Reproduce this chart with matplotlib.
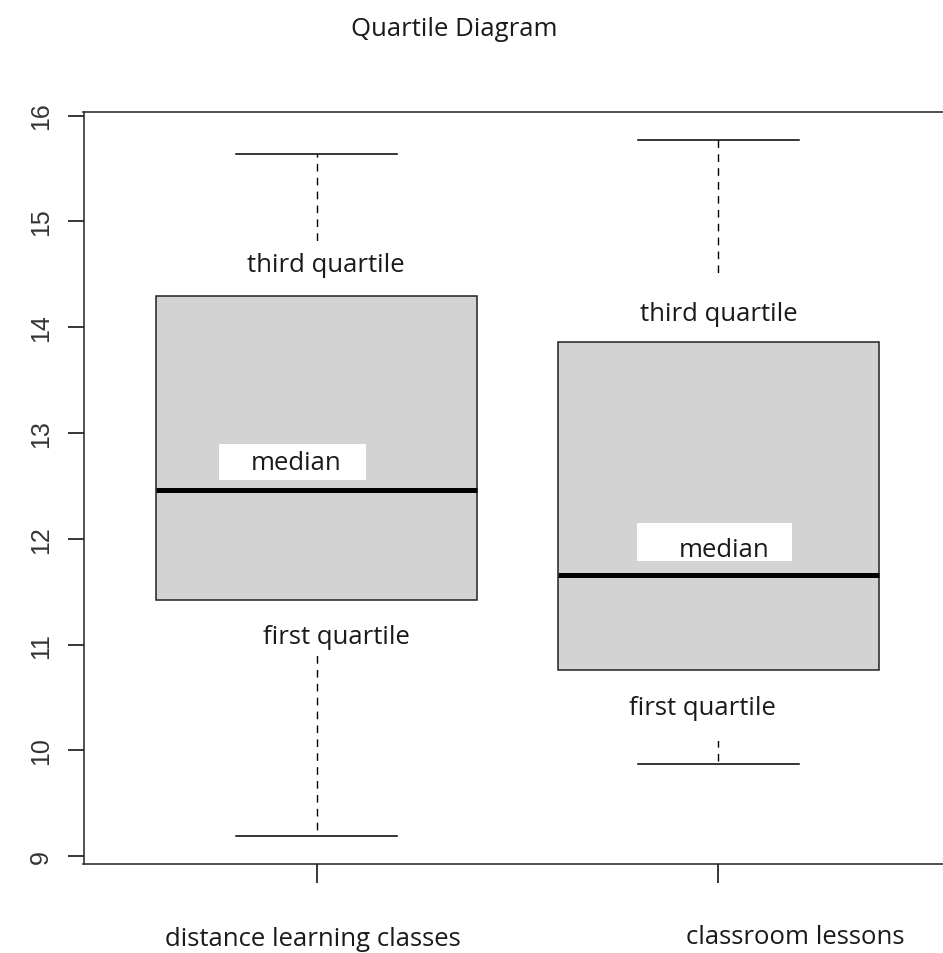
import matplotlib
matplotlib.use("Agg")
import matplotlib.pyplot as plt
from matplotlib.patches import Rectangle
from matplotlib.transforms import blended_transform_factory

# Five-number summaries of the two groups
groups = ["distance learning classes", "classroom lessons"]
whisker_low = [9.19, 9.87]
q1 = [11.42, 10.76]
median = [12.46, 11.66]
q3 = [14.29, 13.86]
whisker_high = [15.64, 15.77]
y_ticks = [9, 10, 11, 12, 13, 14, 15, 16]

label_font = ["Open Sans", "DejaVu Sans"]
FS = 18.5

W, H = 943, 954
fig = plt.figure(figsize=(W / 100, H / 100), dpi=100)
ax_left, ax_right, ax_top, ax_bottom = 83.5, 951.6, 113, 865
ax = fig.add_axes([ax_left / W, 1 - ax_bottom / H,
                   (ax_right - ax_left) / W, (ax_bottom - ax_top) / H])

stats = []
for i, name in enumerate(groups):
    stats.append(dict(label=name, whislo=whisker_low[i], q1=q1[i], med=median[i],
                      q3=q3[i], whishi=whisker_high[i], fliers=[]))

positions = [1, 2]
ax.bxp(stats, positions=positions, widths=0.8, capwidths=0.4, patch_artist=True,
       showfliers=False,
       boxprops=dict(facecolor="#d3d3d3", edgecolor="#222222", linewidth=1.1, zorder=2),
       medianprops=dict(color="black", linewidth=3.6, solid_capstyle="butt", zorder=2.1),
       whiskerprops=dict(color="black", linewidth=1.0, linestyle=(0, (5.5, 4.5)), zorder=1),
       capprops=dict(color="black", linewidth=1.1, zorder=2))

# Axis range with R-style 4% padding
lo, hi = min(whisker_low), max(whisker_high)
pad = 0.04 * (hi - lo)
ax.set_ylim(lo - pad, hi + pad)
ax.set_xlim(0.5 - 0.08, 2.5 + 0.08)

ax.set_yticks(y_ticks)
ax.set_yticklabels([str(t) for t in y_ticks], rotation=90, va="center",
                   family=["Liberation Sans", "DejaVu Sans"], fontsize=18,
                   color="#333333")
ax.set_xticks(positions)
ax.set_xticklabels([])
ax.tick_params(axis="y", direction="out", length=11.5, width=1.1, pad=10.5)
ax.tick_params(axis="x", direction="out", length=14, width=1.1)
for s in ax.spines.values():
    s.set_linewidth(1.1)
    s.set_color("#222222")

# White panels behind the quartile annotations (drawn under the boxes)
covers = [
    (0.80, 14.20, 0.46, 0.60),
    (0.82, 10.94, 0.46, 0.55),
    (1.77, 13.80, 0.46, 0.67),
    (1.73, 10.09, 0.46, 0.72),
]
for x0, y0, w, h in covers:
    ax.add_patch(Rectangle((x0, y0), w, h, facecolor="white", edgecolor="none", zorder=1.5))

median_boxes = [
    (0.758, 12.56, 0.364, 0.34),
    (1.798, 11.787, 0.384, 0.359),
]
for x0, y0, w, h in median_boxes:
    ax.add_patch(Rectangle((x0, y0), w, h, facecolor="white", edgecolor="none", zorder=3))

notes = [
    ("third quartile", 1.022, 14.59),
    ("median", 0.948, 12.72),
    ("first quartile", 1.05, 11.08),
    ("third quartile", 2.002, 14.13),
    ("median", 2.015, 11.90),
    ("first quartile", 1.96, 10.41),
]
for txt, x, y in notes:
    ax.text(x, y, txt, ha="center", va="center", fontsize=FS, family=label_font,
            color="#1a1a1a", zorder=4)

# Group names under the axis
trans = blended_transform_factory(ax.transData, fig.transFigure)
ax.text(0.99, 1 - 940 / H, groups[0], transform=trans, ha="center", va="center",
        fontsize=FS, family=label_font, color="#1a1a1a", clip_on=False)
ax.text(2.19, 1 - 938 / H, groups[1], transform=trans, ha="center", va="center",
        fontsize=FS, family=label_font, color="#1a1a1a", clip_on=False)

fig.text(454 / W, 1 - 30 / H, "Quartile Diagram", ha="center", va="center",
         fontsize=FS, family=label_font, color="#1a1a1a")

fig.savefig("out.png", dpi=100, facecolor="white")
